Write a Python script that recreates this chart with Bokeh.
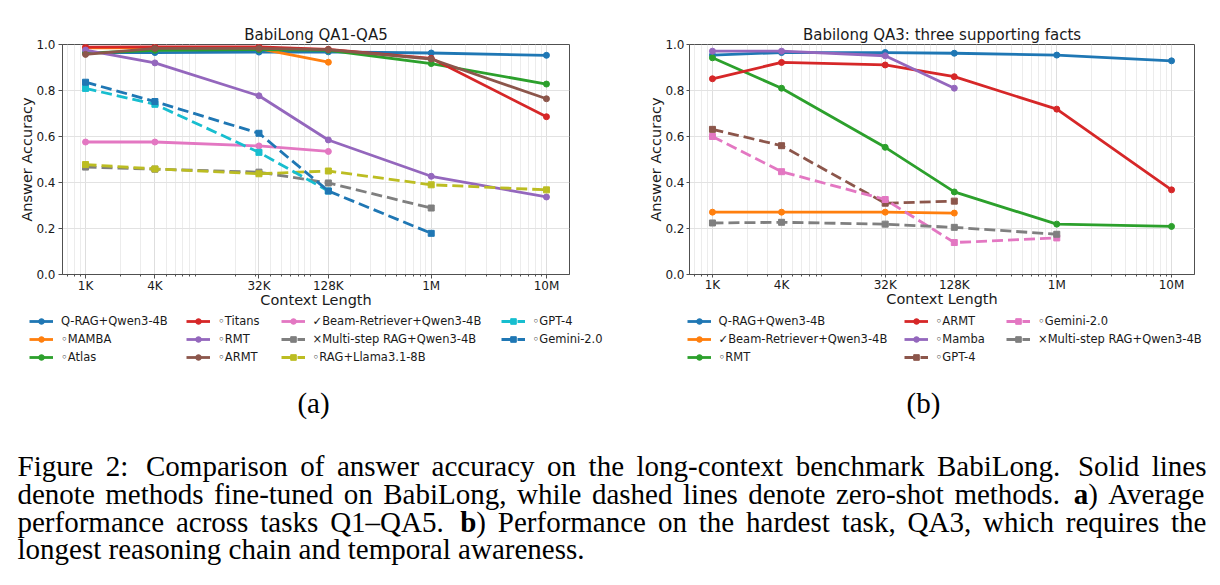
from bokeh.plotting import figure
from bokeh.models import Range1d, FixedTicker, Legend, LegendItem, PrintfTickFormatter
from bokeh.layouts import column, row
from bokeh.core.properties import value
from bokeh.embed import file_html
from bokeh.resources import INLINE

# ---------------------------------------------------------------- data
CONTEXT = [1e3, 4e3, 32e3, 128e3, 1e6, 1e7]
CONTEXT_TICKS = [1000, 4000, 32000, 128000, 1000000, 10000000]
CONTEXT_LABELS = ["1K", "4K", "32K", "128K", "1M", "10M"]
ACC_TICKS = [0.0, 0.2, 0.4, 0.6, 0.8, 1.0]

# (a) average accuracy over QA1-QA5
a_qrag = [0.965, 0.965, 0.967, 0.968, 0.963, 0.953]
a_mamba = [0.985, 0.985, 0.982, 0.923]
a_atlas = [0.962, 0.975, 0.978, 0.975, 0.917, 0.828]
a_titans = [0.989, 0.990, 0.990, 0.979, 0.940, 0.686]
a_rmt = [0.976, 0.920, 0.777, 0.585, 0.427, 0.337]
a_armt = [0.957, 0.983, 0.983, 0.978, 0.937, 0.764]
a_beam = [0.576, 0.576, 0.559, 0.535]
a_multi = [0.467, 0.458, 0.445, 0.398, 0.289]
a_llama = [0.478, 0.459, 0.438, 0.450, 0.390, 0.368]
a_gpt4 = [0.809, 0.740, 0.531, 0.363]
a_gemini = [0.836, 0.752, 0.614, 0.363, 0.179]

# (b) QA3: three supporting facts
b_qrag = [0.954, 0.965, 0.965, 0.962, 0.954, 0.929]
b_beam = [0.271, 0.271, 0.271, 0.267]
b_rmt = [0.942, 0.810, 0.553, 0.359, 0.219, 0.209]
b_armt = [0.851, 0.922, 0.911, 0.860, 0.719, 0.368]
b_mamba = [0.971, 0.971, 0.951, 0.810]
b_gpt4 = [0.631, 0.560, 0.310, 0.319]
b_gemini = [0.600, 0.447, 0.326, 0.139, 0.159]
b_multi = [0.224, 0.227, 0.219, 0.205, 0.175]

PANEL_A = [
    ("Q-RAG+Qwen3-4B", a_qrag, "#1f77b4", False),
    ("\u25e6MAMBA", a_mamba, "#ff7f0e", False),
    ("\u25e6Atlas", a_atlas, "#2ca02c", False),
    ("\u25e6Titans", a_titans, "#d62728", False),
    ("\u25e6RMT", a_rmt, "#9467bd", False),
    ("\u25e6ARMT", a_armt, "#8c564b", False),
    ("\u2713Beam-Retriever+Qwen3-4B", a_beam, "#e377c2", False),
    ("\u00d7Multi-step RAG+Qwen3-4B", a_multi, "#7f7f7f", True),
    ("\u25e6RAG+Llama3.1-8B", a_llama, "#bcbd22", True),
    ("\u25e6GPT-4", a_gpt4, "#17becf", True),
    ("\u25e6Gemini-2.0", a_gemini, "#1f77b4", True),
]

PANEL_B = [
    ("Q-RAG+Qwen3-4B", b_qrag, "#1f77b4", False),
    ("\u2713Beam-Retriever+Qwen3-4B", b_beam, "#ff7f0e", False),
    ("\u25e6RMT", b_rmt, "#2ca02c", False),
    ("\u25e6ARMT", b_armt, "#d62728", False),
    ("\u25e6Mamba", b_mamba, "#9467bd", False),
    ("\u25e6GPT-4", b_gpt4, "#8c564b", True),
    ("\u25e6Gemini-2.0", b_gemini, "#e377c2", True),
    ("\u00d7Multi-step RAG+Qwen3-4B", b_multi, "#7f7f7f", True),
]

CAPTION_LINES = [
    "Figure 2: Comparison of answer accuracy on the long-context benchmark BabiLong. Solid lines",
    "denote methods fine-tuned on BabiLong, while dashed lines denote zero-shot methods. **a**) Average",
    "performance across tasks Q1\u2013QA5. **b**) Performance on the hardest task, QA3, which requires the",
    "longest reasoning chain and temporal awareness.",
]

SANS = "DejaVu Sans"
SERIF = "Liberation Serif"
INK = "#1a1a1a"
FRAME = "#505050"
LINE_W = 2.8
MARK = 6
DASH = "11 5"

MINOR = [k * 10 ** d for d in range(2, 8) for k in range(2, 10) if 600 < k * 10 ** d < 1.6e7]

CHART_H = 315
TOTAL_H = 585


def panel(title, series, borders, tick_out, tick_pad, ylab_pad):
    left, right, top, bottom = borders
    p = figure(width=610, height=CHART_H, x_axis_type="log",
               x_range=Range1d(10 ** 2.8, 10 ** 7.2), y_range=Range1d(0, 1),
               output_backend="svg", toolbar_location=None,
               min_border_left=left, min_border_right=right,
               min_border_top=top, min_border_bottom=bottom,
               background_fill_color="white", border_fill_color="white")
    p.title.text = title
    p.title.text_font = SANS
    p.title.text_font_size = "15px"
    p.title.text_font_style = "normal"
    p.title.text_color = INK
    p.title.align = "center"
    p.title.standoff = 1
    p.outline_line_color = FRAME
    p.outline_line_width = 1

    xt = FixedTicker(ticks=CONTEXT_TICKS, minor_ticks=MINOR)
    p.xaxis.ticker = xt
    p.xgrid.ticker = xt
    p.xaxis.major_label_overrides = dict(zip(CONTEXT_TICKS, CONTEXT_LABELS))
    yt = FixedTicker(ticks=ACC_TICKS)
    p.yaxis.ticker = yt
    p.ygrid.ticker = yt
    p.yaxis.formatter = PrintfTickFormatter(format="%.1f")

    p.xgrid.grid_line_color = "#dedede"
    p.xgrid.minor_grid_line_color = "#ececec"
    p.ygrid.grid_line_color = "#e2e2e2"

    for ax in (p.xaxis[0], p.yaxis[0]):
        ax.axis_line_color = FRAME
        ax.major_tick_line_color = FRAME
        ax.major_tick_out = tick_out
        ax.major_tick_in = 0
        ax.major_label_text_font = SANS
        ax.major_label_text_font_size = "12px"
        ax.major_label_text_color = INK
        ax.axis_label_text_font = SANS
        ax.axis_label_text_font_size = "14.5px"
        ax.axis_label_text_font_style = "normal"
        ax.axis_label_text_color = INK
    p.xaxis.minor_tick_line_color = FRAME
    p.xaxis.minor_tick_out = 2
    p.xaxis.minor_tick_in = 0
    p.yaxis.minor_tick_line_color = None
    p.xaxis.major_label_standoff = 0
    p.yaxis.major_label_standoff = tick_pad
    p.xaxis.axis_label = "Context Length"
    p.xaxis.axis_label_standoff = -4
    p.yaxis.axis_label = "Answer Accuracy"
    p.yaxis.axis_label_standoff = ylab_pad

    for label, vals, color, dashed in series:
        xs = CONTEXT[:len(vals)]
        p.line(xs, vals, line_color=color, line_width=LINE_W,
               line_dash=DASH if dashed else "solid")
        p.scatter(xs, vals, marker="square" if dashed else "circle",
                  size=MARK, fill_color=color, line_color=color)
    return p


pa = panel("BabiLong QA1-QA5", PANEL_A, (62, 41, 40, CHART_H - 274),
           tick_out=4, tick_pad=3, ylab_pad=-2)
pb = panel("Babilong QA3: three supporting facts", PANEL_B, (79, 26, 44, CHART_H - 275),
           tick_out=3, tick_pad=2, ylab_pad=-2)

# ---------------------------------------------------------------- legends + caption
bottom = figure(width=1220, height=TOTAL_H - CHART_H,
                x_range=Range1d(0, 1220), y_range=Range1d(TOTAL_H, CHART_H),
                output_backend="svg", toolbar_location=None, min_border=0,
                x_axis_location=None, y_axis_location=None,
                background_fill_color="white", border_fill_color="white")
bottom.grid.visible = False
bottom.outline_line_color = None

NAN = float("nan")


def legend_block(series, columns):
    # legend samples share the line/marker styling of the chart series;
    # their single NaN point keeps them from drawing anything themselves
    items = []
    for label, vals, color, dashed in series:
        ln = bottom.line([NAN], [NAN], line_color=color, line_width=LINE_W,
                         line_dash=DASH if dashed else "solid")
        mk = bottom.scatter([NAN], [NAN], marker="square" if dashed else "circle",
                            size=MARK, fill_color=color, line_color=color)
        items.append(LegendItem(label=value(label), renderers=[ln, mk]))
    for idx, x_left in columns:
        n = len(idx)
        top_y = CHART_H - 1
        height = n * 14 + (n - 1) * 4
        leg = Legend(items=[items[i] for i in idx],
                     location=(x_left, TOTAL_H - (top_y + height)),
                     orientation="vertical", border_line_color=None,
                     background_fill_alpha=0, padding=0, margin=0, spacing=4,
                     glyph_width=24, glyph_height=14, label_height=14,
                     label_standoff=8, label_text_font=SANS,
                     label_text_font_size="11.5px", label_text_color=INK)
        bottom.add_layout(leg, "center")


legend_block(PANEL_A, [([0, 1, 2], 29), ([3, 4, 5], 186), ([6, 7, 8], 280.5), ([9, 10], 500.5)])
legend_block(PANEL_B, [([0, 1, 2], 686.5), ([3, 4, 5], 903.5), ([6, 7], 1006)])

# advance widths (1/1000 em) of the serif face, used to justify the caption
W_REG = {" ": 250, "(": 333, ")": 333, ",": 250, "-": 333, ".": 250, ":": 278,
         "\u2013": 500, "A": 722, "B": 667, "C": 667, "F": 556, "L": 611,
         "P": 556, "Q": 722, "S": 556,
         "a": 444, "b": 500, "c": 444, "d": 500, "e": 444, "f": 333, "g": 500,
         "h": 500, "i": 278, "k": 500, "l": 278, "m": 778, "n": 500, "o": 500,
         "p": 500, "q": 500, "r": 333, "s": 389, "t": 278, "u": 500, "v": 500,
         "w": 722, "x": 500, "y": 500, "z": 444}
for ch in "0123456789":
    W_REG[ch] = 500
W_BOLD = {"a": 500, "b": 556}

CAP_SIZE = 29.0
CAP_X0, CAP_X1 = 17.0, 1206.0
CAP_BASE = [465, 493, 521, 548]


def runs_of(word):
    out = []
    for k, part in enumerate(word.split("**")):
        if part:
            out.append((part, k % 2 == 1))
    return out


def run_width(txt, bold):
    tab = W_BOLD if bold else W_REG
    return sum(tab.get(c, W_REG.get(c, 500)) for c in txt) * CAP_SIZE / 1000.0


reg_x, reg_y, reg_t = [], [], []
bold_x, bold_y, bold_t = [], [], []
for li, line in enumerate(CAPTION_LINES):
    words = [runs_of(w) for w in line.split(" ")]
    widths = [sum(run_width(t, b) for t, b in w) for w in words]
    gap = 0.25 * CAP_SIZE
    weights = [2.0 if w[-1][0][-1] in ".:" else 1.0 for w in words[:-1]]
    natural = sum(widths) + gap * len(weights)
    justify = li < len(CAPTION_LINES) - 1
    extra = (CAP_X1 - CAP_X0 - natural) / sum(weights) if justify else 0.0
    x = CAP_X0
    for wi, w in enumerate(words):
        cx = x
        for t, b in w:
            if b:
                bold_x.append(cx); bold_y.append(CAP_BASE[li]); bold_t.append(t)
            else:
                reg_x.append(cx); reg_y.append(CAP_BASE[li]); reg_t.append(t)
            cx += run_width(t, b)
        if wi < len(weights):
            x += widths[wi] + gap + extra * weights[wi]

bottom.text(x=[313, 923], y=[402, 402], text=["(a)", "(b)"], text_font=value(SERIF),
            text_font_size=value("29px"), text_align="center", text_baseline="alphabetic",
            text_color="black")
bottom.text(x=reg_x, y=reg_y, text=reg_t, text_font=value(SERIF),
            text_font_size=value(f"{CAP_SIZE}px"), text_align="left",
            text_baseline="alphabetic", text_color="black")
bottom.text(x=bold_x, y=bold_y, text=bold_t, text_font=value(SERIF),
            text_font_size=value(f"{CAP_SIZE}px"), text_font_style="bold",
            text_align="left", text_baseline="alphabetic", text_color="black")

layout = column(row(pa, pb), bottom)
with open("out.html", "w", encoding="utf-8") as fh:
    fh.write(file_html(layout, INLINE))
